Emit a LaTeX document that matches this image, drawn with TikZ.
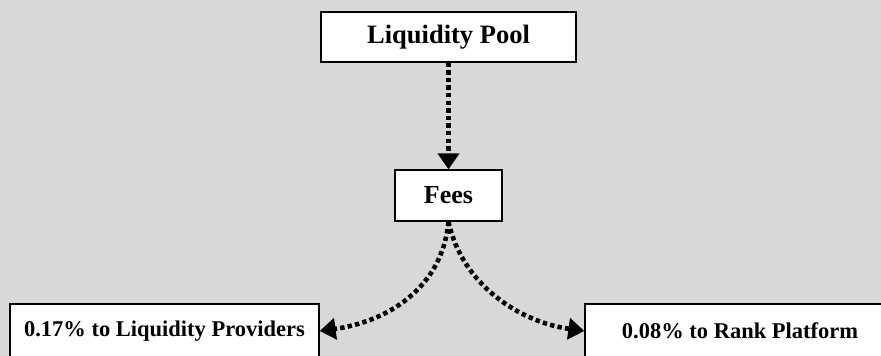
\documentclass[tikz,border=0pt]{standalone}
\usepackage{fontspec}
\setmainfont{Liberation Serif}
\usetikzlibrary{arrows.meta}
\definecolor{bggray}{HTML}{D8D8D8}
\tikzset{
  box/.style={draw=black, fill=white, line width=1.3pt, inner sep=0pt, font=\bfseries},
  flow/.style={line width=4.6pt, dash pattern=on 4.4pt off 3.2pt, -{Triangle[width=21pt,length=16pt]}}
}
\begin{document}
\begin{tikzpicture}[x=1pt,y=-1pt]
\fill[bggray] (0,0) rectangle (881,356);
\clip (0,0) rectangle (881,356);
\node[box, minimum width=255pt, minimum height=50pt, font=\bfseries\fontsize{26.5}{30}\selectfont] (lp) at (448.5,37) {Liquidity Pool};
\node[box, minimum width=107pt, minimum height=51pt, font=\bfseries\fontsize{26}{30}\selectfont] (fees) at (448.5,195.5) {Fees};
\node[box, minimum width=309pt, minimum height=54pt, font=\bfseries\fontsize{22.5}{26}\selectfont] (lpp) at (164.5,331) {0.17\% to Liquidity Providers};
\node[box, minimum width=310pt, minimum height=54pt, font=\bfseries\fontsize{22.5}{26}\selectfont] (rank) at (740,331) {0.08\% to Rank Platform};
\draw[flow] (lp.south) -- (fees.north);
\draw[flow] (fees.south) .. controls (442,290) and (385,322) .. (lpp.east);
\draw[flow] (fees.south) .. controls (462,285) and (520,322) .. (rank.west);
\end{tikzpicture}
\end{document}
